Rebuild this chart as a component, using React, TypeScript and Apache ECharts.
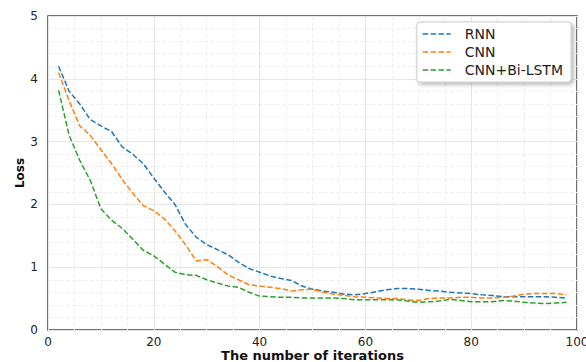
import React, { useEffect, useRef } from "react";
import * as echarts from "echarts";

const iterations = [
  2, 4, 6, 8, 10, 12, 14, 16, 18, 20, 22, 24, 26, 28, 30, 32, 34, 36, 38, 40,
  42, 44, 46, 48, 50, 52, 54, 56, 58, 60, 62, 64, 66, 68, 70, 72, 74, 76, 78, 80,
  82, 84, 86, 88, 90, 92, 94, 96, 98,
];

const rnnLoss = [
  4.2, 3.8, 3.6, 3.35, 3.25, 3.16, 2.92, 2.8, 2.65, 2.42, 2.2, 2.0, 1.68, 1.48, 1.36, 1.28, 1.2, 1.08, 0.98, 0.92,
  0.86, 0.82, 0.79, 0.7, 0.65, 0.62, 0.6, 0.57, 0.56, 0.58, 0.61, 0.64, 0.66, 0.66, 0.65, 0.63, 0.62, 0.6, 0.59, 0.58,
  0.56, 0.55, 0.53, 0.53, 0.53, 0.53, 0.53, 0.52, 0.51,
];

const cnnLoss = [
  4.1, 3.65, 3.25, 3.1, 2.87, 2.65, 2.4, 2.18, 1.98, 1.9, 1.77, 1.58, 1.36, 1.1, 1.12, 1.01, 0.88, 0.8, 0.72, 0.7,
  0.68, 0.66, 0.62, 0.64, 0.65, 0.6, 0.57, 0.55, 0.53, 0.52, 0.51, 0.5, 0.5, 0.48, 0.47, 0.5, 0.51, 0.51, 0.52, 0.52,
  0.51, 0.51, 0.52, 0.54, 0.57, 0.58, 0.58, 0.58, 0.56,
];

const cnnBiLstmLoss = [
  3.82, 3.1, 2.7, 2.38, 1.93, 1.75, 1.62, 1.45, 1.27, 1.18, 1.05, 0.92, 0.88, 0.87, 0.8, 0.75, 0.7, 0.68, 0.6, 0.54,
  0.53, 0.52, 0.52, 0.51, 0.51, 0.51, 0.51, 0.5, 0.48, 0.48, 0.48, 0.48, 0.48, 0.46, 0.44, 0.45, 0.46, 0.49, 0.47, 0.45,
  0.45, 0.45, 0.47, 0.46, 0.44, 0.43, 0.42, 0.43, 0.44,
];

const seriesNames = ["RNN", "CNN", "CNN+Bi-LSTM"];
const seriesColors = ["#1f77b4", "#ff7f0e", "#2ca02c"];

const FONT = "DejaVu Sans";

export default function App() {
  const ref = useRef<HTMLDivElement>(null);

  useEffect(() => {
    if (!ref.current) return;
    const chart = echarts.init(ref.current, undefined, { renderer: "svg" });
    const allValues = [rnnLoss, cnnLoss, cnnBiLstmLoss];
    const series = allValues.map((vals, i) => ({
      name: seriesNames[i],
      type: "line",
      data: iterations.map((x, j) => [x, vals[j]]),
      showSymbol: false,
      symbol: "none",
      lineStyle: { color: seriesColors[i], width: 1.5, type: [5.5, 2.4] },
      itemStyle: { color: seriesColors[i] },
    }));

    chart.setOption({
      animation: false,
      backgroundColor: "#ffffff",
      textStyle: { fontFamily: FONT },
      grid: {
        left: 48,
        right: 9,
        top: 16,
        bottom: 32,
        outerBoundsMode: "none",
        containLabel: false,
        show: true,
        borderColor: "#444444",
        borderWidth: 1.5,
        backgroundColor: "transparent",
      },
      legend: {
        right: 15,
        top: 22,
        orient: "vertical",
        itemWidth: 28,
        itemHeight: 14,
        itemGap: 4,
        padding: [5, 8, 5, 5],
        backgroundColor: "#ffffff",
        borderColor: "#cccccc",
        borderWidth: 1,
        borderRadius: 3,
        shadowBlur: 4,
        shadowColor: "rgba(0,0,0,0.3)",
        shadowOffsetX: 2,
        shadowOffsetY: 2,
        itemStyle: { opacity: 0 },
        lineStyle: { width: 1.5, type: [5.5, 2.4] },
        textStyle: { fontFamily: FONT, fontSize: 14, color: "#222222", padding: [0, 0, 0, 9] },
        data: seriesNames,
      },
      xAxis: {
        type: "value",
        min: 0,
        max: 100,
        interval: 20,
        name: "The number of iterations",
        nameLocation: "middle",
        nameGap: 18,
        nameMoveOverlap: false,
        nameTextStyle: { fontFamily: FONT, fontSize: 13, fontWeight: "bold", color: "#111111", lineHeight: 14 },
        axisLine: { show: false },
        axisTick: { show: false },
        axisLabel: { fontFamily: FONT, fontSize: 12, color: "#222222", margin: 6 },
        splitLine: { show: true, lineStyle: { color: "#e6e6e6", width: 1 } },
        minorTick: { show: false, splitNumber: 4 },
        minorSplitLine: { show: true, lineStyle: { color: "#efefef", type: "dashed", width: 1 } },
      },
      yAxis: {
        type: "value",
        min: 0,
        max: 5,
        interval: 1,
        name: "Loss",
        nameLocation: "middle",
        nameGap: 22,
        nameMoveOverlap: false,
        nameTextStyle: { fontFamily: FONT, fontSize: 12, fontWeight: "bold", color: "#111111" },
        axisLine: { show: false },
        axisTick: { show: false },
        axisLabel: { fontFamily: FONT, fontSize: 12, color: "#222222", margin: 10 },
        splitLine: { show: true, lineStyle: { color: "#e6e6e6", width: 1 } },
        minorTick: { show: false, splitNumber: 5 },
        minorSplitLine: { show: true, lineStyle: { color: "#efefef", type: "dashed", width: 1 } },
      },
      series,
    });

    return () => chart.dispose();
  }, []);

  return <div ref={ref} style={{ width: 586, height: 362, position: "absolute", left: 0, top: 0 }} />;
}
